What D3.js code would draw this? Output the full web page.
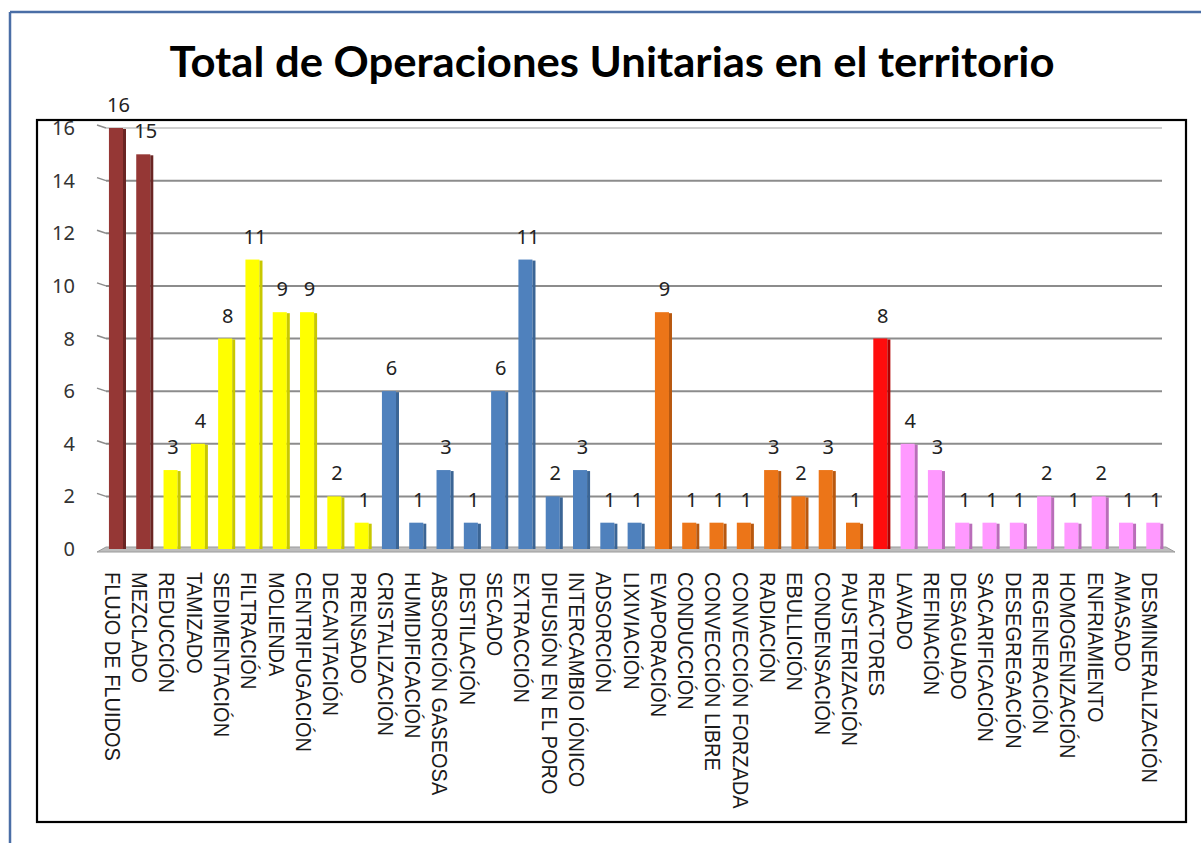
<!DOCTYPE html>
<html><head><meta charset="utf-8">
<script src="https://cdn.jsdelivr.net/npm/d3@7"></script>
<style>html,body{margin:0;padding:0;background:#fff;overflow:hidden}</style>
</head><body>
<svg id="c" width="1201" height="843"></svg>
<script>
const categories = ["FLUJO DE FLUIDOS","MEZCLADO","REDUCCIÓN","TAMIZADO","SEDIMENTACIÓN","FILTRACIÓN","MOLIENDA","CENTRIFUGACIÓN","DECANTACIÓN","PRENSADO","CRISTALIZACIÓN","HUMIDIFICACIÓN","ABSORCIÓN GASEOSA","DESTILACIÓN","SECADO","EXTRACCIÓN","DIFUSIÓN EN EL PORO","INTERCAMBIO IÓNICO","ADSORCIÓN","LIXIVIACIÓN","EVAPORACIÓN","CONDUCCIÓN","CONVECCIÓN LIBRE","CONVECCIÓN FORZADA","RADIACIÓN","EBULLICIÓN","CONDENSACIÓN","PAUSTERIZACIÓN","REACTORES","LAVADO","REFINACIÓN","DESAGUADO","SACARIFICACIÓN","DESEGREGACIÓN","REGENERACIÓN","HOMOGENIZACIÓN","ENFRIAMIENTO","AMASADO","DESMINERALIZACIÓN"];
const values = [16,15,3,4,8,11,9,9,2,1,6,1,3,1,6,11,2,3,1,1,9,1,1,1,3,2,3,1,8,4,3,1,1,1,2,1,2,1,1];
const groups = ["a","a","b","b","b","b","b","b","b","b","c","c","c","c","c","c","c","c","c","c","d","d","d","d","d","d","d","d","e","f","f","f","f","f","f","f","f","f","f"];
const groupColors = {a:"#953735", b:"#FFFF00", c:"#4F81BD", d:"#EC7518", e:"#FF0D0D", f:"#FF99FF"};
const groupSides = {a:"#6a2523", b:"#c8c800", c:"#3b6595", d:"#b8580f", e:"#b00000", f:"#b96db9"};
const yTicks = [0,2,4,6,8,10,12,14,16];
const title = "Total de Operaciones Unitarias en el territorio";

const svg = d3.select("#c");
// outer border
svg.append("line").attr("x1",10).attr("y1",12).attr("x2",1201).attr("y2",12).attr("stroke","#4a6ea6").attr("stroke-width",2.5);
svg.append("line").attr("x1",10).attr("y1",12).attr("x2",10).attr("y2",843).attr("stroke","#4a6ea6").attr("stroke-width",2.5);

const x = d3.scaleBand().domain(categories).range([98.7,1173.6]).paddingInner(0.375).paddingOuter(0.375);
const y = d3.scaleLinear().domain([0,16]).range([549,128]);

// gridlines
const g = svg.append("g");
yTicks.forEach(t=>{
  if(t===0) return;
  g.append("line").attr("x1",106).attr("x2",1162).attr("y1",y(t)).attr("y2",y(t))
   .attr("stroke", t===16 ? "#cfcfcf" : "#8c8c8c").attr("stroke-width",2);
  g.append("line").attr("x1",97).attr("x2",106).attr("y1",y(t)-3).attr("y2",y(t))
   .attr("stroke","#8c8c8c").attr("stroke-width",1.5);
});
// floor
g.append("polygon").attr("points",[[97,y(0)+3],[106,y(0)-2],[1166,y(0)-2],[1175,y(0)+3]].map(p=>p.join(",")).join(" "))
 .attr("fill","#bdbdbd").attr("stroke","#9a9a9a").attr("stroke-width",1);

// y tick labels
svg.append("g").selectAll("text").data(yTicks).join("text")
  .attr("x",75).attr("y",d=>y(d)).attr("dy","0.35em").attr("text-anchor","end")
  .attr("font-family","Noto Sans").attr("font-size",20).attr("fill","#333").text(d=>d);

// bars
const bw = x.bandwidth();
const bars = svg.append("g").selectAll("g").data(categories).join("g");
bars.append("rect").attr("x",d=>x(d)).attr("y",(d,i)=>y(values[i])).attr("width",bw-3)
  .attr("height",(d,i)=>y(0)-y(values[i])).attr("fill",(d,i)=>groupColors[groups[i]]);
bars.append("rect").attr("x",d=>x(d)+bw-3).attr("y",(d,i)=>y(values[i])+1).attr("width",3)
  .attr("height",(d,i)=>y(0)-y(values[i])-1).attr("fill",(d,i)=>groupSides[groups[i]]);

// value labels
svg.append("g").selectAll("text").data(categories).join("text")
  .attr("x",d=>x(d)+bw/2+1).attr("y",(d,i)=>y(values[i])-16).attr("text-anchor","middle")
  .attr("font-family","Noto Sans").attr("font-size",20).attr("fill","#222").text((d,i)=>values[i]);

// x labels
svg.append("g").selectAll("text").data(categories).join("text")
  .attr("transform",d=>`translate(${x(d)+bw/2-4.5},572) rotate(90) scale(1,1.12)`)
  .attr("dy","0.36em")
  .attr("font-family","Liberation Sans").attr("font-size",20).attr("fill","#1a1a1a").text(d=>d);

// plot frame
svg.append("rect").attr("x",37).attr("y",120).attr("width",1149).attr("height",702)
  .attr("fill","none").attr("stroke","#000").attr("stroke-width",2.2);

// title
svg.append("text").attr("x",612).attr("y",77).attr("text-anchor","middle")
  .attr("font-family","Lato").attr("font-weight","bold").attr("font-size",42)
  .attr("textLength",885).attr("lengthAdjust","spacingAndGlyphs").attr("fill","#000").text(title);
</script>
</body></html>
